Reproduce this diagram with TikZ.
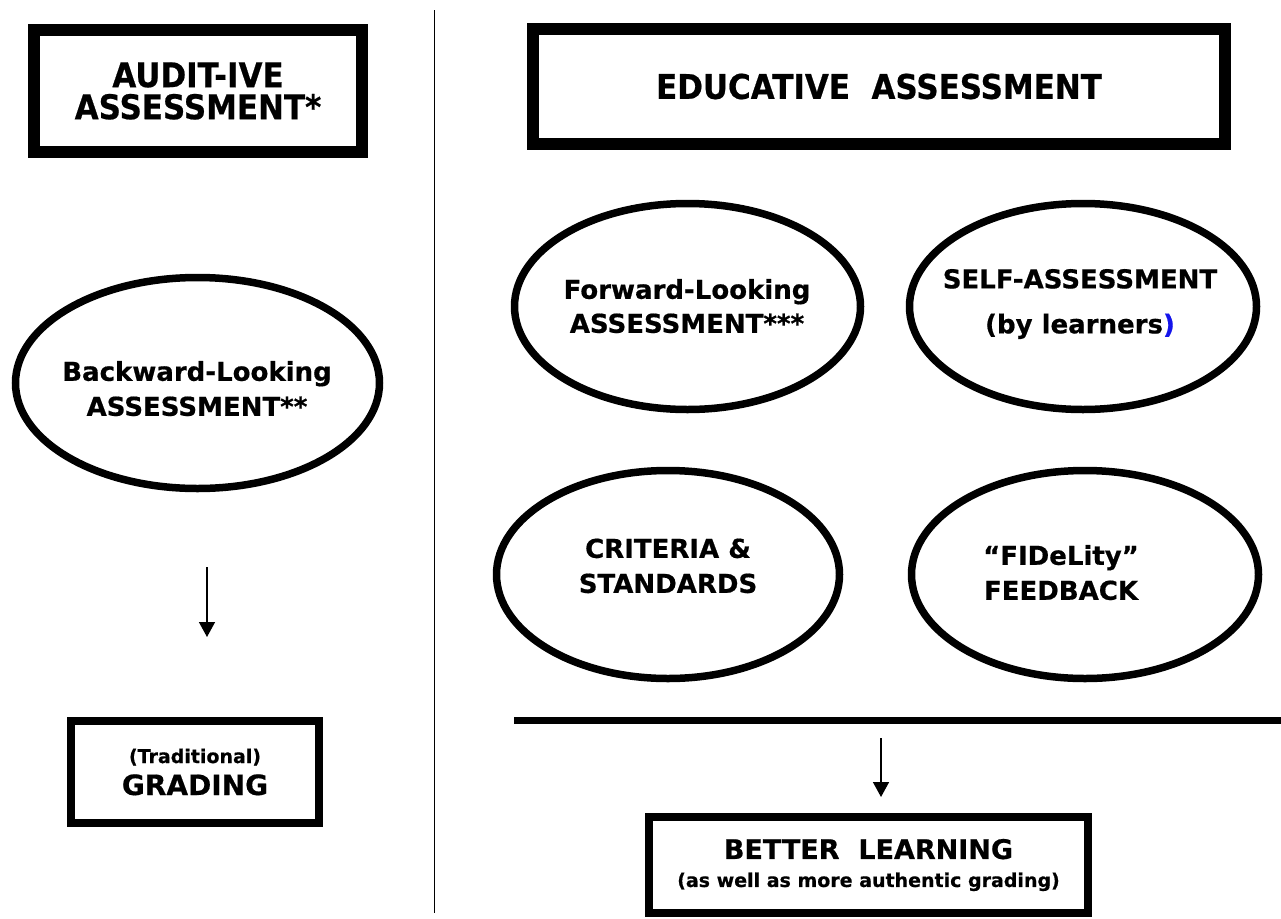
\documentclass[tikz,border=0pt]{standalone}
\usepackage{fontspec}
\setmainfont{DejaVu Sans}[BoldFeatures={FakeBold=0.6}]
\newfontfamily\titlefont{DejaVu Sans}[FakeStretch=0.91,BoldFeatures={FakeBold=0.6}]
\usetikzlibrary{arrows.meta,shapes.geometric}
\definecolor{parblue}{RGB}{20,20,235}
\begin{document}
\begin{tikzpicture}[x=1pt,y=-1pt,
  bx/.style={draw,rectangle,inner sep=0pt,align=center},
  ov/.style={draw,ellipse,line width=7.5pt,inner sep=0pt},
  txt/.style={inner sep=0pt,align=center,font=\bfseries\fontsize{26}{35}\selectfont},
  ttl/.style={font=\titlefont\bfseries\fontsize{34}{32}\selectfont},
  arr/.style={line width=1.5pt,-{Triangle[length=15pt,width=16pt]}}]
\useasboundingbox (0,0) rectangle (1281,918);

% title boxes
\node[bx,ttl,line width=12pt,minimum width=328pt,minimum height=122pt] (audit) at (198,91) {AUDIT-IVE\\ASSESSMENT*};
\node[bx,ttl,line width=12pt,minimum width=692pt,minimum height=115pt] (edu) at (879,86.5) {EDUCATIVE\ \ ASSESSMENT};

% dividing line
\coordinate (vt) at (434.5,10);
\coordinate (vb) at (434.5,913);
\draw[line width=1.5pt] (vt) -- (vb);

% left column
\node[ov,minimum width=364pt,minimum height=211pt] (back) at (197.5,383) {};
\node[txt] (backt) at (197,388.6) {Backward-Looking\\ASSESSMENT**};

\coordinate (la1) at (207,567);
\coordinate (la2) at (207,637);
\draw[arr] (la1) -- (la2);

\node[bx,line width=8pt,minimum width=248pt,minimum height=102pt,
      font=\bfseries\fontsize{28}{32}\selectfont] (grad) at (195,772)
      {{\fontsize{19}{22}\selectfont (Traditional)}\\GRADING};

% right column ellipses
\node[ov,minimum width=346pt,minimum height=206pt] (fwd) at (687.5,306.5) {};
\node[txt,font=\bfseries\fontsize{26}{34}\selectfont] (fwdt) at (687,306.1) {Forward-Looking\\ASSESSMENT***};

\node[ov,minimum width=347pt,minimum height=206pt] (self) at (1083,306.5) {};
\node[txt] (selft) at (1080,304) {SELF-ASSESSMENT\\[10pt](by learners\textcolor{parblue}{)}};

\node[ov,minimum width=343pt,minimum height=208pt] (crit) at (668,574.5) {};
\node[txt] (critt) at (668,565.9) {CRITERIA \&\\STANDARDS};

\node[ov,minimum width=347pt,minimum height=208pt] (fid) at (1085,574.5) {};
\node[txt] (fidt) at (1061,572.6) {“FIDeLity”\\FEEDBACK};

% bar and result
\coordinate (hl1) at (514,720.5);
\coordinate (hl2) at (1281,720.5);
\draw[line width=7pt] (hl1) -- (hl2);

\coordinate (ra1) at (881,738);
\coordinate (ra2) at (881,797);
\draw[arr] (ra1) -- (ra2);

\node[bx,line width=8pt,minimum width=439pt,minimum height=96pt,
      font=\bfseries\fontsize{27}{28}\selectfont] (better) at (868.5,865)
      {BETTER\ \ LEARNING\\{\fontsize{19}{22}\selectfont (as well as more authentic grading)}};
\end{tikzpicture}
\end{document}
